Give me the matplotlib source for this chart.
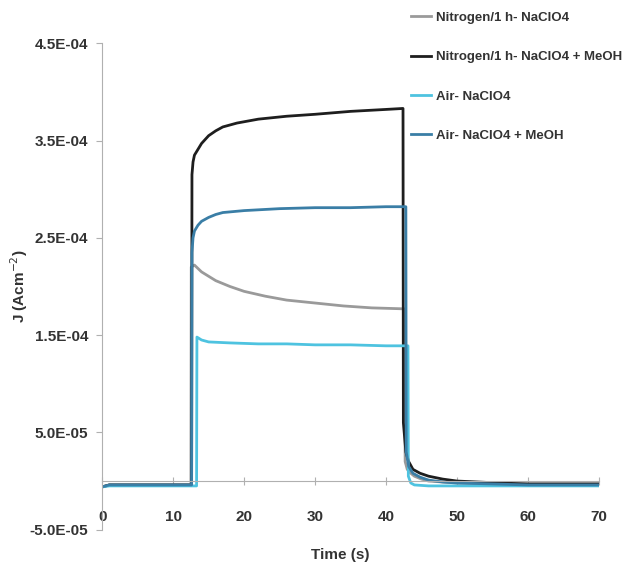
import matplotlib
matplotlib.use("Agg")
import matplotlib.pyplot as plt

plt.rcParams['font.family'] = ['Liberation Sans', 'DejaVu Sans']

# Nitrogen/1 h - NaClO4 (grey)
t_n = [0, 1, 12.5, 12.55, 13, 14, 16, 18, 20, 23, 26, 30, 34, 38, 42.6,
       42.7, 43, 43.5, 44, 45, 46, 48, 50, 55, 60, 70]
j_n = [-6e-6, -4e-6, -4e-6, 2.2e-4, 2.22e-4, 2.15e-4, 2.06e-4, 2.0e-4, 1.95e-4,
       1.9e-4, 1.86e-4, 1.83e-4, 1.8e-4, 1.78e-4, 1.77e-4,
       2e-5, 1.2e-5, 8e-6, 5e-6, 2e-6, 0, -1e-6, -2e-6, -3e-6, -3e-6, -3e-6]

# Nitrogen/1 h - NaClO4 + MeOH (black)
t_nm = [0, 1, 12.6, 12.65, 12.8, 13, 14, 15, 16, 17, 19, 22, 26, 30, 35, 40, 42.4,
        42.45, 42.8, 43.2, 43.8, 44.8, 46, 48, 50, 53, 56, 60, 70]
j_nm = [-6e-6, -4e-6, -4e-6, 3.15e-4, 3.28e-4, 3.35e-4, 3.47e-4, 3.55e-4, 3.6e-4,
        3.64e-4, 3.68e-4, 3.72e-4, 3.75e-4, 3.77e-4, 3.8e-4, 3.82e-4, 3.83e-4,
        6e-5, 3e-5, 2e-5, 1.2e-5, 8e-6, 5e-6, 2e-6, 0, -1e-6, -2e-6, -3e-6, -3e-6]

# Air - NaClO4 (light cyan)
t_a = [0, 1, 13.3, 13.35, 14, 15, 18, 22, 26, 30, 35, 40, 43.1,
       43.15, 43.5, 44, 46, 50, 60, 70]
j_a = [-6e-6, -5e-6, -5e-6, 1.48e-4, 1.45e-4, 1.43e-4, 1.42e-4, 1.41e-4, 1.41e-4,
       1.4e-4, 1.4e-4, 1.39e-4, 1.39e-4,
       5e-6, -2e-6, -4e-6, -5e-6, -5e-6, -5e-6, -5e-6]

# Air - NaClO4 + MeOH (steel blue)
t_am = [0, 1, 12.6, 12.65, 12.8, 13, 13.5, 14, 15, 16, 17, 20, 25, 30, 35, 40, 42.8,
        42.85, 43.2, 43.8, 44.8, 46, 48, 50, 55, 60, 70]
j_am = [-6e-6, -4e-6, -4e-6, 2.35e-4, 2.5e-4, 2.57e-4, 2.63e-4, 2.67e-4, 2.71e-4,
        2.74e-4, 2.76e-4, 2.78e-4, 2.8e-4, 2.81e-4, 2.81e-4, 2.82e-4, 2.82e-4,
        3e-5, 1.5e-5, 8e-6, 4e-6, 1e-6, -1e-6, -2e-6, -3e-6, -4e-6, -4e-6]

labels = ['Nitrogen/1 h- NaClO4', 'Nitrogen/1 h- NaClO4 + MeOH',
          'Air- NaClO4', 'Air- NaClO4 + MeOH']
colors = ['#9a9a9a', '#1e1e1e', '#4ec3e0', '#3a7ea6']

y_ticks = [-5e-5, 5e-5, 1.5e-4, 2.5e-4, 3.5e-4, 4.5e-4]
y_ticklabels = ['-5.0E-05', '5.0E-05', '1.5E-04', '2.5E-04', '3.5E-04', '4.5E-04']
x_ticks = [0, 10, 20, 30, 40, 50, 60, 70]

fig = plt.figure(figsize=(6.31, 5.77), dpi=100)
ax = fig.add_axes([0.162, 0.082, 0.787, 0.843])

lines = []
for t, j, c, lab in zip([t_n, t_nm, t_a, t_am], [j_n, j_nm, j_a, j_am], colors, labels):
    l, = ax.plot(t, j, color=c, lw=2.0, label=lab)
    lines.append(l)

ax.set_xlim(0, 70)
ax.set_ylim(-5e-5, 4.5e-4)
ax.spines['top'].set_visible(False)
ax.spines['right'].set_visible(False)
ax.spines['bottom'].set_position(('data', 0))
ax.spines['left'].set_color('#b0b0b0')
ax.spines['bottom'].set_color('#b0b0b0')

ax.set_yticks(y_ticks)
ax.set_yticklabels(y_ticklabels)
ax.set_xticks(x_ticks)
ax.tick_params(axis='y', direction='out', length=4, color='#b0b0b0', pad=6,
               labelsize=11, labelcolor='#333333')
ax.tick_params(axis='x', direction='inout', length=6, color='#b0b0b0', pad=18,
               labelsize=11, labelcolor='#333333')
for lab in ax.get_xticklabels() + ax.get_yticklabels():
    lab.set_fontweight('bold')

ax.set_ylabel('J (Acm$^{-2}$)', fontsize=11, fontweight='bold', color='#333333')
ax.yaxis.set_label_coords(-0.145, 0.5)
fig.text(0.54, 0.038, 'Time (s)', ha='center', va='center', fontsize=11,
         fontweight='bold', color='#333333')

fig.legend(handles=lines, loc='upper left', bbox_to_anchor=(0.633, 1.0),
           frameon=False, labelspacing=2.05, handlelength=1.5,
           handletextpad=0.4, prop={'weight': 'bold', 'size': 9.5})
for txt in fig.legends[0].get_texts():
    txt.set_color('#333333')

fig.savefig('out.png', dpi=100)
